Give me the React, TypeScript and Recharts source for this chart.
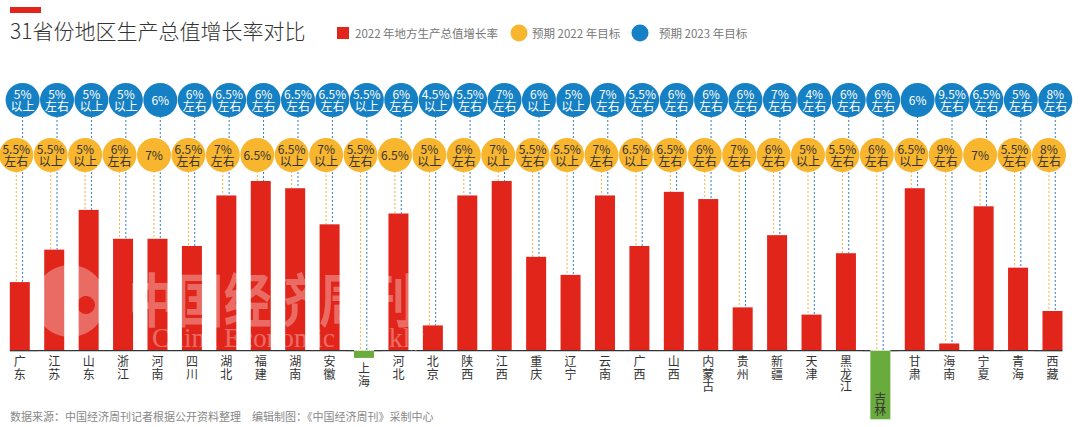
import { BarChart, Bar, XAxis, YAxis } from "recharts";

// 省份
const provinces = ["广东", "江苏", "山东", "浙江", "河南", "四川", "湖北", "福建", "湖南", "安徽", "上海", "河北", "北京", "陕西", "江西", "重庆", "辽宁", "云南", "广西", "山西", "内蒙古", "贵州", "新疆", "天津", "黑龙江", "吉林", "甘肃", "海南", "宁夏", "青海", "西藏"];
// 2022 年地方生产总值增长率 (%)
const growth2022 = [1.9, 2.8, 3.9, 3.1, 3.1, 2.9, 4.3, 4.7, 4.5, 3.5, -0.2, 3.8, 0.7, 4.3, 4.7, 2.6, 2.1, 4.3, 2.9, 4.4, 4.2, 1.2, 3.2, 1.0, 2.7, -1.9, 4.5, 0.2, 4.0, 2.3, 1.1];
// 预期 2022 年目标
const target2022 = ["5.5%", "5.5%", "5%", "6%", "7%", "6.5%", "7%", "6.5%", "6.5%", "7%", "5.5%", "6.5%", "5%", "6%", "7%", "5.5%", "5.5%", "7%", "6.5%", "6.5%", "6%", "7%", "6%", "5%", "5.5%", "6%", "6.5%", "9%", "7%", "5.5%", "8%"];
const note2022 = ["左右", "以上", "以上", "左右", "", "左右", "左右", "", "以上", "以上", "左右", "", "以上", "左右", "以上", "左右", "以上", "左右", "以上", "左右", "左右", "左右", "左右", "以上", "左右", "左右", "以上", "左右", "", "左右", "左右"];
// 预期 2023 年目标
const target2023 = ["5%", "5%", "5%", "5%", "6%", "6%", "6.5%", "6%", "6.5%", "6.5%", "5.5%", "6%", "4.5%", "5.5%", "7%", "6%", "5%", "7%", "5.5%", "6%", "6%", "6%", "7%", "4%", "6%", "6%", "6%", "9.5%", "6.5%", "5%", "8%"];
const note2023 = ["以上", "左右", "以上", "以上", "", "左右", "左右", "左右", "左右", "左右", "以上", "左右", "以上", "左右", "左右", "以上", "以上", "左右", "左右", "左右", "左右", "左右", "左右", "左右", "左右", "左右", "", "左右", "左右", "左右", "左右"];

const data = provinces.map((name, i) => ({
  name,
  growth: growth2022[i],
  t22: target2022[i],
  n22: note2022[i],
  t23: target2023[i],
  n23: note2023[i],
}));

const RED = "#e1251b";
const GREEN = "#6aab3e";
const YELLOW = "#f8b52e";
const BLUE = "#1580c3";
const FONT = "'Noto Sans CJK SC', 'Noto Sans', sans-serif";

const BLUE_ROW = 100;
const YELLOW_ROW = 155;
const R = 17;

function Bubble({ cx, cy, fill, color, main, note }: any) {
  return (
    <g>
      <circle cx={cx} cy={cy} r={R} fill={fill} />
      {note ? (
        <>
          <text x={cx} y={cy - 1} textAnchor="middle" fontSize={12} fill={color} fontFamily={FONT}>{main}</text>
          <text x={cx} y={cy + 11} textAnchor="middle" fontSize={12} fill={color} fontFamily={FONT}>{note}</text>
        </>
      ) : (
        <text x={cx} y={cy + 5} textAnchor="middle" fontSize={12} fill={color} fontFamily={FONT}>{main}</text>
      )}
    </g>
  );
}

function Column(props: any) {
  const { x, y, width, height, index, payload } = props;
  const top = Math.min(y, y + height);
  const h = Math.abs(height);
  const v = payload.growth;
  const base = v >= 0 ? top + h : top;
  const bottom = top + h;
  const cx = x + width / 2;
  const yx = cx - 3.5;
  const bx = cx + 2.8;
  const last = index === provinces.length - 1;
  const lx1 = index === 0 ? x : x - 7.4;
  const lx2 = last ? x + width : x + width + 7.4;
  const chars = Array.from(payload.name as string);
  // 标签：基线下方；小的负值柱下方；大的负值柱内部
  let firstBase = base + 15.5;
  if (v < 0) {
    firstBase = h > chars.length * 13 + 10 ? bottom - 4 - (chars.length - 1) * 12.5 : bottom + 15.5;
  }
  return (
    <g>
      <line x1={bx} x2={bx} y1={BLUE_ROW} y2={top} stroke="#2f7fc4" strokeWidth={1} strokeDasharray="2 2" />
      <line x1={yx} x2={yx} y1={YELLOW_ROW} y2={top} stroke="#f2b445" strokeWidth={1} strokeDasharray="2 2" />
      <rect x={x} y={top} width={width} height={h} fill={v < 0 ? GREEN : RED} />
      {v >= 0 && <line x1={lx1} x2={lx2} y1={base} y2={base} stroke="#333" strokeWidth={1.3} />}
      {v < 0 && (
        <>
          <line x1={lx1} x2={x} y1={base} y2={base} stroke="#333" strokeWidth={1.3} />
          <line x1={x + width} x2={lx2} y1={base} y2={base} stroke="#333" strokeWidth={1.3} />
        </>
      )}
      {chars.map((c, k) => (
        <text key={k} x={cx} y={firstBase + k * 12.5} textAnchor="middle" fontSize={12} fill="#333" fontFamily={FONT}>{c}</text>
      ))}
      <Bubble cx={yx} cy={YELLOW_ROW} fill={YELLOW} color="#333" main={payload.t22} note={payload.n22} />
      <Bubble cx={bx} cy={BLUE_ROW} fill={BLUE} color="#fff" main={payload.t23} note={payload.n23} />
    </g>
  );
}

export default function App() {
  return (
    <div style={{ position: "absolute", left: 0, top: 0, width: 1080, height: 427, background: "#fff", fontFamily: FONT }}>
      <BarChart width={1080} height={427} data={data} margin={{ top: 0.5, right: 10.1, bottom: 4.1, left: 2.8 }}>
        <XAxis dataKey="name" hide />
        <YAxis hide domain={[-2, 9.7]} allowDataOverflow tickCount={8} />
        <Bar dataKey="growth" barSize={20} shape={<Column />} isAnimationActive={false} />
      </BarChart>
      <svg width={1080} height={427} style={{ position: "absolute", left: 0, top: 0, pointerEvents: "none" }}>
        {/* 标题 */}
        <rect x={10} y={7} width={31} height={6} fill={RED} />
        <text x={10} y={39} fontSize={21} fill="#333" fontFamily={FONT} fontWeight={300}>31省份地区生产总值增长率对比</text>
        {/* 图例 */}
        <rect x={337} y={27} width={12} height={12} fill={RED} />
        <text x={355} y={37.5} fontSize={11.5} fill="#777" fontFamily={FONT}>2022 年地方生产总值增长率</text>
        <circle cx={519} cy={33} r={8.5} fill={YELLOW} />
        <text x={532} y={37.5} fontSize={11.5} fill="#777" fontFamily={FONT}>预期 2022 年目标</text>
        <circle cx={640} cy={33} r={8.5} fill={BLUE} />
        <text x={659} y={37.5} fontSize={11.5} fill="#777" fontFamily={FONT}>预期 2023 年目标</text>
        {/* 水印 */}
        <g opacity={0.32} fill="#fff">
          <path d="M70,265 a36,36 0 1,0 0.01,0 Z M86,296 a9,9 0 1,1 -0.01,0 Z" fillRule="evenodd" />
          <text x={128} y={322} fontSize={58} fontWeight={700} fontFamily={FONT} textLength={287} lengthAdjust="spacingAndGlyphs">中国经济周刊</text>
          <text x={152} y={347} fontSize={28} fontFamily="'Liberation Serif', serif" textLength={272} lengthAdjust="spacingAndGlyphs">China Economic Weekly</text>
        </g>
        {/* 来源 */}
        <text x={10} y={421} fontSize={11} fill="#888" fontFamily={FONT}>数据来源：中国经济周刊记者根据公开资料整理　编辑制图：《中国经济周刊》采制中心</text>
      </svg>
    </div>
  );
}
